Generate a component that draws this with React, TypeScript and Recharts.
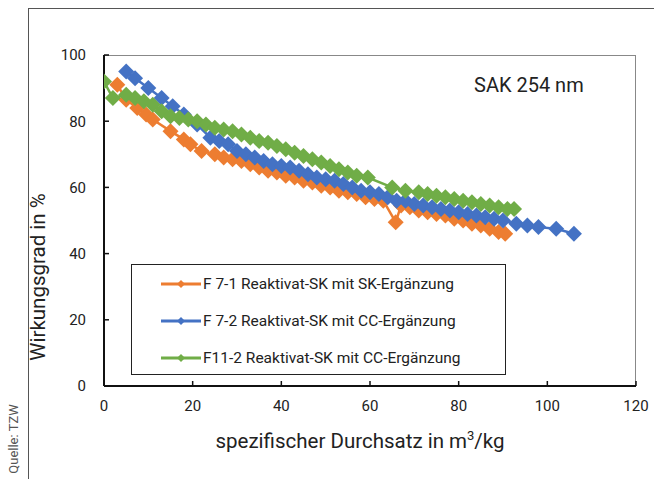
import { ScatterChart, Scatter, XAxis, YAxis, Legend, Label } from "recharts";

// F 7-1 Reaktivat-SK mit SK-Ergänzung
const f71X = [3, 5, 7.5, 9.5, 11, 15, 18, 19.5, 22, 25, 27, 29, 31, 33, 35, 37, 39, 41, 43, 45, 47, 49, 51, 53, 55, 57, 59, 61, 63, 65.8, 67, 69, 71, 73, 75, 77, 79, 81, 83, 85, 87, 89, 90.5];
const f71Y = [91, 86.5, 84, 82, 80.5, 77, 74.5, 73, 71, 70, 69, 68.5, 68, 67, 66, 65, 64.5, 63.5, 63, 62, 61.5, 60.5, 60, 59, 58.5, 58, 57, 56.5, 56, 49.5, 54.5, 54, 53, 52.5, 52, 51.5, 50.5, 50, 49, 48.5, 47.5, 46.5, 46];

// F 7-2 Reaktivat-SK mit CC-Ergänzung
const f72X = [5, 7, 10, 13, 15.5, 18, 21, 24, 26, 28, 30, 32, 34, 36, 38, 40, 42, 44, 46, 48, 50, 52, 54, 56, 58, 60, 62, 64, 66, 68, 70, 72, 74, 76, 78, 80, 82, 84, 86, 88, 90, 93, 95.5, 98, 102, 106];
const f72Y = [95, 93, 90, 87, 84.5, 82, 79, 75, 74, 73, 71, 70, 69, 68, 67, 66.5, 66, 65, 64, 63, 62.5, 62, 61, 60, 59, 58.5, 58, 57, 56, 56, 55, 54.5, 54, 53.5, 53, 52.5, 52, 51.5, 51, 50.5, 50, 49, 48.5, 48, 47.5, 46];

// F11-2 Reaktivat-SK mit CC-Ergänzung
const f112X = [0, 2, 5, 7, 9, 11, 13, 15, 17, 19, 21, 23, 25, 27, 29, 31, 33, 35, 37, 39, 41, 43, 45, 47, 49, 51, 53, 55, 57, 59.5, 65, 68, 71, 73, 75, 77, 79, 81, 83, 85, 87, 89, 91, 92.5];
const f112Y = [92, 87, 88, 87, 86, 85, 83, 81.5, 81, 80.5, 80, 79, 78, 77.5, 77, 76, 75, 74, 73.5, 72.5, 71.5, 70.5, 69.5, 68.5, 67.5, 66.5, 65.5, 64.5, 63.5, 63, 60, 59, 58.5, 58, 57.5, 57, 56.5, 56, 55.5, 55, 54.5, 54, 53.5, 53.5];

const seriesNames = [
  "F 7-1 Reaktivat-SK mit SK-Ergänzung",
  "F 7-2 Reaktivat-SK mit CC-Ergänzung",
  "F11-2 Reaktivat-SK mit CC-Ergänzung",
];
const seriesColors = ["#ED7D31", "#4472C4", "#70AD47"];
const xTicks = [0, 20, 40, 60, 80, 100, 120];
const yTicks = [0, 20, 40, 60, 80, 100];

const zip = (xs: number[], ys: number[]) => xs.map((x, i) => ({ x, y: ys[i] }));
const seriesData = [zip(f71X, f71Y), zip(f72X, f72Y), zip(f112X, f112Y)];

const FONT = "Roboto, 'DejaVu Sans', sans-serif";

function Diamond(props: any) {
  const { cx, cy, fill } = props;
  const r = 8;
  return (
    <polygon
      points={`${cx},${cy - r} ${cx + r},${cy} ${cx},${cy + r} ${cx - r},${cy}`}
      fill={fill}
    />
  );
}

function LegendBox() {
  return (
    <div
      style={{
        width: 375,
        height: 111,
        border: "1.5px solid #222",
        boxSizing: "border-box",
        background: "#fff",
        fontFamily: FONT,
        fontSize: 15.5,
        color: "#222",
      }}
    >
      {seriesNames.map((name, i) => (
        <div
          key={name}
          style={{ display: "flex", alignItems: "center", height: 37, marginLeft: 29 }}
        >
          <svg width={40} height={12} style={{ marginRight: 2 }}>
            <line x1={0} y1={6} x2={40} y2={6} stroke={seriesColors[i]} strokeWidth={3} />
            <polygon points="20,2 24,6 20,10 16,6" fill={seriesColors[i]} />
          </svg>
          <span>{name}</span>
        </div>
      ))}
    </div>
  );
}

export default function App() {
  return (
    <div style={{ position: "absolute", left: 0, top: 0, width: 654, height: 479, background: "#fff", overflow: "hidden" }}>
      {/* outer frame */}
      <div
        style={{
          position: "absolute",
          left: 28,
          top: 8,
          width: 640,
          height: 500,
          borderLeft: "1px solid #555",
          borderTop: "1px solid #555",
        }}
      />
      <div
        style={{
          position: "absolute",
          left: 13,
          top: 439,
          transform: "translate(-50%, -50%) rotate(-90deg)",
          fontFamily: FONT,
          fontSize: 13,
          color: "#555",
          whiteSpace: "nowrap",
        }}
      >
        Quelle: TZW
      </div>
      {/* plot box top/right edges */}
      <div
        style={{
          position: "absolute",
          left: 104,
          top: 55,
          width: 532,
          height: 331,
          borderTop: "1px solid #888",
          borderRight: "1px solid #888",
          boxSizing: "border-box",
        }}
      />
      <ScatterChart
        width={654}
        height={479}
        margin={{ top: 55, right: 18, left: 0, bottom: 33 }}
        style={{ position: "absolute", left: 0, top: 0 }}
      >
        <XAxis
          type="number"
          dataKey="x"
          domain={[0, 120]}
          ticks={xTicks}
          height={60}
          tickSize={-5}
          tickMargin={19}
          axisLine={{ stroke: "#111", strokeWidth: 2 }}
          tickLine={{ stroke: "#111", strokeWidth: 1.5 }}
          tick={{ fill: "#222", fontSize: 15, fontFamily: FONT }}
          allowDataOverflow
        >
          <Label
            content={() => (
              <text x={360} y={448} textAnchor="middle" fontFamily={FONT} fontSize={20.5} fill="#222">
                spezifischer Durchsatz in m
                <tspan dy={-8} fontSize={13}>3</tspan>
                <tspan dy={8}>/kg</tspan>
              </text>
            )}
          />
        </XAxis>
        <YAxis
          type="number"
          dataKey="y"
          domain={[0, 100]}
          ticks={yTicks}
          width={104}
          tickSize={-5}
          tickMargin={23}
          axisLine={{ stroke: "#111", strokeWidth: 2 }}
          tickLine={{ stroke: "#111", strokeWidth: 1.5 }}
          tick={{ fill: "#222", fontSize: 15, fontFamily: FONT }}
        >
          <Label
            content={() => (
              <text
                x={45}
                y={277}
                transform="rotate(-90 45 277)"
                textAnchor="middle"
                fontFamily={FONT}
                fontSize={20.5}
                fill="#222"
              >
                Wirkungsgrad in %
              </text>
            )}
          />
        </YAxis>
        {seriesData.map((d, i) => (
          <Scatter
            key={seriesNames[i]}
            name={seriesNames[i]}
            data={d}
            fill={seriesColors[i]}
            line={{ stroke: seriesColors[i], strokeWidth: 2.5 }}
            shape={<Diamond />}
            isAnimationActive={false}
          />
        ))}
        <Legend
          layout="vertical"
          align="center"
          verticalAlign="middle"
          content={() => <LegendBox />}
          wrapperStyle={{ position: "absolute", left: 131, top: 264, width: 375, height: 111 }}
        />
      </ScatterChart>
      <div
        style={{
          position: "absolute",
          left: 474,
          top: 73,
          fontFamily: FONT,
          fontSize: 20,
          color: "#222",
          whiteSpace: "nowrap",
        }}
      >
        SAK 254 nm
      </div>
    </div>
  );
}
